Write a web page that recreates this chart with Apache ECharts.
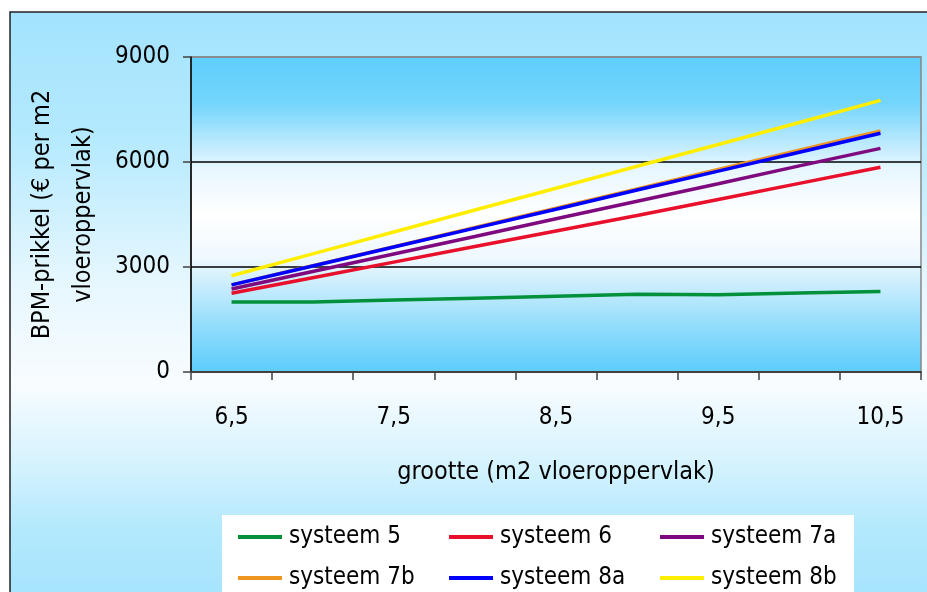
<!DOCTYPE html>
<html>
<head>
<meta charset="utf-8">
<script src="https://cdn.jsdelivr.net/npm/echarts@6/dist/echarts.min.js"></script>
<style>
html,body{margin:0;padding:0;background:#fff;}
#chart{width:927px;height:592px;}
</style>
</head>
<body>
<div id="chart"></div>
<script>
// ---- data ----
const categories = ['6,5','7','7,5','8','8,5','9','9,5','10','10,5'];
const seriesNames = ['systeem 5','systeem 6','systeem 7a','systeem 7b','systeem 8a','systeem 8b'];
const systeem5  = [2000, 2000, 2055, 2110, 2165, 2220, 2210, 2255, 2300];
const systeem6  = [2250, 2695, 3140, 3585, 4030, 4470, 4930, 5390, 5850];
const systeem7a = [2370, 2870, 3370, 3870, 4380, 4880, 5380, 5890, 6390];
const systeem7b = [2490, 3035, 3580, 4130, 4680, 5230, 5785, 6340, 6890];
const systeem8a = [2490, 3030, 3570, 4110, 4650, 5200, 5740, 6280, 6820];
const systeem8b = [2750, 3375, 4000, 4630, 5250, 5880, 6500, 7130, 7760];
const yTicks = [0, 3000, 6000, 9000];
const colors = ['#00913A', '#E8102A', '#7F0A80', '#F0961E', '#0000FF', '#FFEE00'];

const FONT = '"DejaVu Sans Condensed", "DejaVu Sans", sans-serif';
const allData = [systeem5, systeem6, systeem7a, systeem7b, systeem8a, systeem8b];

const chart = echarts.init(document.getElementById('chart'), null, {renderer: 'canvas'});
const option = {
  backgroundColor: '#ffffff',
  animation: false,
  textStyle: {fontFamily: FONT},
  graphic: [{
    type: 'rect', z: -100, silent: true,
    shape: {x: 10, y: 12, width: 940, height: 600},
    style: {
      fill: {type: 'linear', x: 0, y: 0, x2: 0, y2: 1, colorStops: [
        {offset: 0, color: '#A3E3FD'},
        {offset: 0.2, color: '#B3E9FE'},
        {offset: 0.45, color: '#E6F7FE'},
        {offset: 0.62, color: '#F8FCFF'},
        {offset: 0.76, color: '#D3F2FE'},
        {offset: 0.86, color: '#B3E9FD'},
        {offset: 1, color: '#A3E3FD'}
      ]},
      stroke: '#222', lineWidth: 1.5
    }
  }],
  grid: {
    left: 191, right: 6, top: 57, bottom: 220,
    show: true,
    borderColor: '#888', borderWidth: 1.5,
    backgroundColor: {type: 'linear', x: 0, y: 0, x2: 0, y2: 1, colorStops: [
      {offset: 0, color: '#5ECEFC'},
      {offset: 0.15, color: '#74D5FC'},
      {offset: 0.35, color: '#E6F6FF'},
      {offset: 0.5, color: '#FFFFFF'},
      {offset: 0.64, color: '#EEF8FE'},
      {offset: 0.85, color: '#93DDFC'},
      {offset: 1, color: '#5CCCFB'}
    ]}
  },
  legend: {
    left: 222, top: 515,
    width: 640,
    padding: [10, 0, 30, 16],
    backgroundColor: '#ffffff',
    icon: 'rect',
    itemWidth: 44, itemHeight: 4,
    itemGap: 17,
    data: seriesNames,
    textStyle: {fontFamily: FONT, fontSize: 24, color: '#000', width: 143, lineHeight: 24, padding: [0, 0, 0, 2]}
  },
  xAxis: {
    type: 'category',
    data: categories,
    boundaryGap: true,
    name: 'grootte (m2 vloeroppervlak)',
    nameLocation: 'middle',
    nameGap: 88,
    nameTextStyle: {fontFamily: FONT, fontSize: 25, color: '#000'},
    axisLine: {show: true, lineStyle: {color: '#404040', width: 2}},
    axisTick: {show: true, interval: 0, length: 8, lineStyle: {color: '#404040', width: 1.5}},
    axisLabel: {interval: 1, margin: 34, fontFamily: FONT, fontSize: 24, color: '#000'},
    splitLine: {show: false}
  },
  yAxis: {
    type: 'value',
    min: yTicks[0], max: yTicks[yTicks.length - 1], interval: 3000,
    name: 'BPM-prikkel (€ per m2\nvloeroppervlak)',
    nameLocation: 'middle',
    nameRotate: 90,
    nameGap: 79,
    nameTextStyle: {fontFamily: FONT, fontSize: 25, color: '#000', lineHeight: 41, align: 'center'},
    axisLine: {show: true, lineStyle: {color: '#000', width: 1.5}},
    axisTick: {show: true, length: 8, lineStyle: {color: '#404040', width: 1.5}},
    axisLabel: {margin: 21, fontFamily: FONT, fontSize: 24, color: '#000', formatter: v => String(v)},
    splitLine: {show: true, lineStyle: {color: ['#888', '#000', '#000', '#888'], width: 1.5}}
  },
  series: seriesNames.map((n, i) => ({
    name: n,
    type: 'line',
    data: allData[i],
    symbol: 'none',
    lineStyle: {color: colors[i], width: 3.5},
    itemStyle: {color: colors[i]},
    z: 2 + i
  }))
};
chart.setOption(option);
</script>
</body>
</html>
